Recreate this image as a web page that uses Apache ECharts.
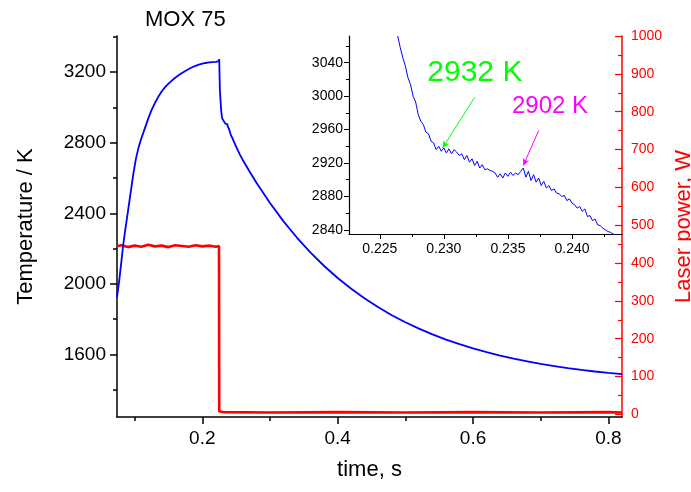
<!DOCTYPE html>
<html><head><meta charset="utf-8">
<script src="https://cdn.jsdelivr.net/npm/echarts@6/dist/echarts.min.js"></script>
<style>html,body{margin:0;padding:0;background:#fff}#c{width:691px;height:492px}</style>
</head><body><div id="c"></div>
<script>
// ---- data ----
const heatT = [0.074,0.077,0.080,0.083,0.086,0.089,0.092,0.095,0.098,0.102,0.106,0.110,0.115,0.120,0.125,0.130,0.135,0.140,0.145,0.150,0.155,0.160,0.165,0.170,0.175,0.180,0.185,0.190,0.195,0.200,0.205,0.210,0.215,0.220,0.2245,0.2250,0.2255,0.2260];
const heatK = [1925,2010,2110,2215,2300,2380,2460,2540,2620,2710,2775,2825,2880,2935,2985,3025,3060,3090,3115,3135,3152,3168,3182,3195,3207,3218,3228,3236,3243,3248,3252,3255,3257,3258,3262,3274,3180,3100];
const insetT = [0.2264,0.2266,0.2268,0.2270,0.2272,0.2274,0.2276,0.2278,0.2280,0.2282,0.2284,0.2286,0.2288,0.2290,0.2292,0.2294,0.2296,0.2298,0.2300,0.2302,0.2304,0.2306,0.2308,0.2310,0.2312,0.2314,0.2316,0.2318,0.2320,0.2322,0.2324,0.2326,0.2328,0.2330,0.2332,0.2334,0.2336,0.2338,0.2340,0.2342,0.2344,0.2346,0.2348,0.2350,0.2352,0.2354,0.2356,0.2358,0.2360,0.2362,0.2364,0.2366,0.2368,0.2370,0.2372,0.2374,0.2376,0.2378,0.2380,0.2382,0.2384,0.2386,0.2388,0.2390,0.2392,0.2394,0.2396,0.2398,0.2400,0.2402,0.2404,0.2406,0.2408,0.2410,0.2412,0.2414,0.2416,0.2418,0.2420,0.2422,0.2424,0.2426,0.2428,0.2430,0.2432,0.2434,0.2436];
const insetK = [3072,3058,3046,3036,3022,3014,3000,2993,2978,2970,2966,2957,2955,2946,2944,2936,2940,2934,2938,2932,2937,2931,2936,2933,2929,2931,2924,2929,2921,2925,2917,2922,2914,2918,2912,2913,2911,2910,2908,2903,2907,2902,2908,2904,2909,2905,2908,2906,2910,2914,2903,2910,2899,2906,2897,2902,2893,2898,2890,2893,2887,2889,2884,2883,2880,2881,2875,2877,2872,2870,2866,2868,2862,2865,2856,2857,2851,2853,2846,2845,2842,2840,2838,2837,2835,2834,2833];
const coolT = [0.2445,0.2460,0.2480,0.2500,0.2530,0.2560,0.2600,0.27,0.28,0.30,0.32,0.34,0.36,0.38,0.40,0.42,0.44,0.46,0.48,0.50,0.52,0.54,0.56,0.58,0.60,0.62,0.64,0.66,0.68,0.70,0.72,0.74,0.76,0.78,0.80,0.82];
const coolK = [2826,2812,2795,2778,2752,2730,2701,2635,2573,2458,2354,2261,2177,2101,2033,1972,1917,1867,1822,1782,1746,1713,1684,1658,1634,1613,1593,1576,1561,1546,1534,1522,1512,1503,1495,1488];
const laserT = [0.074,0.08,0.09,0.10,0.11,0.12,0.13,0.14,0.15,0.16,0.17,0.18,0.19,0.20,0.21,0.22,0.2247,0.2250,0.23,0.30,0.40,0.50,0.60,0.70,0.80,0.82];
const laserW = [444,447,442,446,443,448,444,446,442,447,445,443,447,444,446,443,445,8,6,5,6,5,6,5,6,5];
const mainXTicks = [0.2,0.4,0.6,0.8];
const mainXMinor = [0.1,0.3,0.5,0.7];
const tempTicks = [1600,2000,2400,2800,3200];
const tempMinor = [1400,1800,2200,2600,3000,3400];
const powerTicks = [0,100,200,300,400,500,600,700,800,900,1000];
const powerMinor = [50,150,250,350,450,550,650,750,850,950];
const insetXTicks = [0.225,0.230,0.235,0.240];
const insetXMinor = [0.2275,0.2325,0.2375,0.2425];
const insetYTicks = [2840,2880,2920,2960,3000,3040];
const insetYMinor = [2860,2900,2940,2980,3020,3060];
const labels = [{text:'2932 K', t:0.23242, k:3028}, {text:'2902 K', t:0.23828, k:2988}];
const arrows = [{from:[0.2324,2998.5], to:[0.2299,2938]}, {from:[0.2374,2959], to:[0.2362,2917]}];

// ---- build ----
const zip = (a,b)=>a.map((v,i)=>[v,b[i]]);
const tempData = zip(heatT,heatK).concat(zip(insetT,insetK)).concat(zip(coolT,coolK));
const FONT = 'Liberation Sans, Arial, sans-serif';
const black = '#000';
const plain = v => String(v);
function axisBase(o){
  const b = Object.assign({type:'value', splitLine:{show:false}, axisPointer:{show:false}}, o);
  b.axisLine = Object.assign({onZero:false}, b.axisLine || {});
  return b;
}
const xAxes = [
  axisBase({gridIndex:0, min:0.074, max:0.82, position:'bottom',
    axisLine:{lineStyle:{color:black, width:1.5}},
    axisTick:{inside:false, customValues:mainXTicks, length:7, lineStyle:{color:black, width:1.5}},
    axisLabel:{customValues:mainXTicks, color:black, fontSize:19, fontFamily:FONT, margin:12, formatter:plain},
    name:'time, s', nameLocation:'middle', nameGap:42, nameTextStyle:{color:black, fontSize:22, fontFamily:FONT}}),
  axisBase({gridIndex:0, min:0.074, max:0.82, position:'bottom',
    axisLine:{show:false},
    axisTick:{inside:false, customValues:mainXMinor, length:4, lineStyle:{color:black, width:1.5}},
    axisLabel:{show:false}}),
  axisBase({gridIndex:1, min:0.2226, max:0.2439, position:'bottom',
    axisLine:{lineStyle:{color:black, width:1.2}},
    axisTick:{inside:false, customValues:insetXTicks, length:5, lineStyle:{color:black}},
    axisLabel:{customValues:insetXTicks, color:black, fontSize:14, fontFamily:FONT, margin:8, formatter:v=>v.toFixed(3)}}),
  axisBase({gridIndex:1, min:0.2226, max:0.2439, position:'bottom',
    axisLine:{show:false},
    axisTick:{inside:false, customValues:insetXMinor, length:3, lineStyle:{color:black}},
    axisLabel:{show:false}})
];
const yAxes = [
  axisBase({gridIndex:0, min:1245, max:3405, position:'left',
    axisLine:{show:true, lineStyle:{color:black, width:1.5}},
    axisTick:{show:true, customValues:tempTicks, length:7, lineStyle:{color:black, width:1.5}},
    axisLabel:{customValues:tempTicks, color:black, fontSize:19, fontFamily:FONT, margin:11, formatter:plain},
    name:'Temperature / K', nameLocation:'middle', nameGap:80, nameTextStyle:{color:black, fontSize:22, fontFamily:FONT}}),
  axisBase({gridIndex:0, min:1245, max:3405, position:'left',
    axisLine:{show:false},
    axisTick:{show:true, customValues:tempMinor, length:4, lineStyle:{color:black, width:1.5}},
    axisLabel:{show:false}}),
  axisBase({gridIndex:0, min:-7, max:1000, position:'right',
    axisLine:{show:true, lineStyle:{color:'#ff0000', width:1.5}},
    axisTick:{show:true, inside:true, customValues:powerTicks, length:7, lineStyle:{color:'#ff0000', width:1.2}},
    axisLabel:{customValues:powerTicks, color:'#ff0000', fontSize:14, fontFamily:FONT, margin:9, formatter:plain},
    name:'Laser power, W', nameLocation:'middle', nameGap:48, nameTextStyle:{color:'#ff0000', fontSize:22, fontFamily:FONT}}),
  axisBase({gridIndex:0, min:-7, max:1000, position:'right',
    axisLine:{show:false},
    axisTick:{show:true, inside:true, customValues:powerMinor, length:4, lineStyle:{color:'#ff0000', width:1.2}},
    axisLabel:{show:false}}),
  axisBase({gridIndex:1, min:2835, max:3072, position:'left',
    axisLine:{show:true, lineStyle:{color:black, width:1.2}},
    axisTick:{show:true, customValues:insetYTicks, length:5, lineStyle:{color:black}},
    axisLabel:{customValues:insetYTicks, color:black, fontSize:14, fontFamily:FONT, margin:6, formatter:plain}}),
  axisBase({gridIndex:1, min:2835, max:3072, position:'left',
    axisLine:{show:false},
    axisTick:{show:true, customValues:insetYMinor, length:3, lineStyle:{color:black}},
    axisLabel:{show:false}})
];
const labelColors = ['#00ff00','#ff00ff'];
const labelSizes = [30,24];
const chart = echarts.init(document.getElementById('c'), null, {renderer:'canvas'});
chart.setOption({
  animation:false,
  backgroundColor:'#fff',
  title:{text:'MOX 75', left:140, top:4, textStyle:{color:black, fontSize:22, fontWeight:'normal', fontFamily:FONT}},
  grid:[
    {left:117, right:69, top:36, bottom:75, outerBoundsMode:'none', containLabel:false},
    {left:349, right:69, top:36, bottom:258, outerBoundsMode:'none', containLabel:false}
  ],
  xAxis:xAxes,
  yAxis:yAxes,
  series:[
    {type:'line', xAxisIndex:0, yAxisIndex:2, data:zip(laserT,laserW), showSymbol:false,
     lineStyle:{color:'#ff0000', width:2.6}},
    {type:'line', xAxisIndex:0, yAxisIndex:0, data:tempData, showSymbol:false,
     lineStyle:{color:'#0000ff', width:1.8}},
    {type:'line', xAxisIndex:2, yAxisIndex:4, data:zip(insetT,insetK).concat([[0.2445,2826]]), showSymbol:false, clip:true,
     lineStyle:{color:'#0000ff', width:1},
     markLine:{silent:true, symbol:['none','arrow'], symbolSize:[5,7], label:{show:false},
       data:arrows.map((a,i)=>[{coord:a.from, lineStyle:{color:labelColors[i], width:1, type:'solid'}},{coord:a.to}])},
     markPoint:{silent:true, symbol:'circle', symbolSize:0,
       data:labels.map((l,i)=>({coord:[l.t,l.k], label:{show:true, position:'inside', formatter:l.text, color:labelColors[i], fontSize:labelSizes[i], fontFamily:FONT}}))}}
  ]
});
</script></body></html>
